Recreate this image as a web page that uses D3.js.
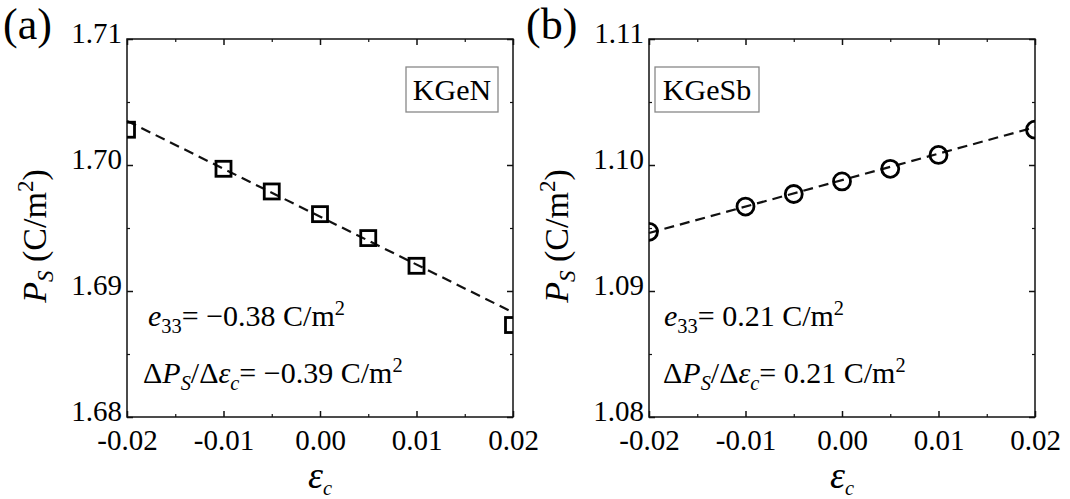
<!DOCTYPE html>
<html>
<head>
<meta charset="utf-8">
<script src="https://cdn.jsdelivr.net/npm/d3@7"></script>
<style>
    body { margin: 0; background: #fff; }
    svg, svg text { font-family: 'Liberation Serif', 'Times New Roman', serif; }
    .axis-line { fill: none; stroke: #111; stroke-width: 1.5; }
</style>
</head>
<body>
<svg id="chart" width="1070" height="499"></svg>
<script>
// Data
const strain = [-0.02, -0.01, -0.005, 0.00, 0.005, 0.01, 0.02];
const psKGeN = [1.7028, 1.6997, 1.6979, 1.6961, 1.6942, 1.6920, 1.6873];
const psKGeSb = [1.0947, 1.0967, 1.0977, 1.0987, 1.0997, 1.1008, 1.1028];

// linear fits (dashed)
const fitStrain = [-0.02, 0.02];
const fitKGeN = [1.7035, 1.6883];
const fitKGeSb = [1.0946, 1.1030];

const xTicks = [-0.02, -0.01, 0.00, 0.01, 0.02];
const yTicksKGeN = [1.68, 1.69, 1.70, 1.71];
const yTicksKGeSb = [1.08, 1.09, 1.10, 1.11];

const svg = d3.select('#chart');
const serif = "'Liberation Serif', 'Times New Roman', serif";

// text with sub/superscripts: parts = [[text, style]] style: i, sub, isub, sup
function richText(sel, parts, size) {
    let shift = 0;
    parts.forEach(([t, s]) => {
        const sp = sel.append('tspan').text(t);
        let target = 0;
        if (s === 'sub' || s === 'isub') target = 0.22 * size;
        if (s === 'sup') target = -0.38 * size;
        sp.attr('dy', target - shift);
        shift = target;
        if (s === 'i' || s === 'isub') sp.style('font-style', 'italic');
        if (s === 'sub' || s === 'isub' || s === 'sup') sp.style('font-size', (size * 0.68) + 'px');
    });
}

function drawPanel(opt) {
    const width = 386, height = 378;
    const g = svg.append('g').attr('transform', `translate(${opt.left}, ${opt.top})`);

    const x = d3.scaleLinear().domain([-0.02, 0.02]).range([0, width]);
    const y = d3.scaleLinear().domain(opt.yDomain).range([height, 0]);

    const clipId = 'clip-' + opt.name;
    g.append('clipPath').attr('id', clipId)
        .append('rect').attr('width', width).attr('height', height);

    // ticks (inward, all four sides)
    const xMinor = d3.range(-0.02, 0.0201, 0.005).filter(v => !xTicks.some(t => Math.abs(t - v) < 1e-9));
    const yMinor = opt.yTicks.slice(0, -1).map(v => v + 0.005);

    const bottom = d3.axisBottom(x).tickValues(xTicks).tickSizeInner(-6).tickSizeOuter(0);
    const bAxis = g.append('g').attr('transform', `translate(0, ${height})`).call(bottom)
        .attr('font-family', serif);
    bAxis.select('.domain').remove();
    bAxis.selectAll('line').attr('stroke', '#111').attr('stroke-width', 1.5);
    bAxis.selectAll('text').attr('fill', '#000').style('font-size', '29px')
        .attr('y', 0).attr('dy', '33px').text(d => d3.format('.2f')(d).replace('−', '-'));

    g.append('g').attr('transform', `translate(0, ${height})`)
        .call(d3.axisBottom(x).tickValues(xMinor).tickSize(-3).tickFormat(''))
        .call(a => a.select('.domain').remove())
        .selectAll('line').attr('stroke', '#111').attr('stroke-width', 1.2);

    g.append('g')
        .call(d3.axisTop(x).tickValues(xTicks).tickSize(-6).tickFormat(''))
        .call(a => a.select('.domain').remove())
        .selectAll('line').attr('stroke', '#111').attr('stroke-width', 1.5);
    g.append('g')
        .call(d3.axisTop(x).tickValues(xMinor).tickSize(-3).tickFormat(''))
        .call(a => a.select('.domain').remove())
        .selectAll('line').attr('stroke', '#111').attr('stroke-width', 1.2);

    const left = d3.axisLeft(y).tickValues(opt.yTicks).tickSizeInner(-6).tickSizeOuter(0).tickFormat(d3.format('.2f'));
    const lAxis = g.append('g').call(left).attr('font-family', serif);
    lAxis.select('.domain').remove();
    lAxis.selectAll('line').attr('stroke', '#111').attr('stroke-width', 1.5);
    lAxis.selectAll('text').attr('fill', '#000').style('font-size', '29px')
        .attr('x', -5).attr('dy', '0.12em');

    g.append('g')
        .call(d3.axisLeft(y).tickValues(yMinor).tickSize(-3).tickFormat(''))
        .call(a => a.select('.domain').remove())
        .selectAll('line').attr('stroke', '#111').attr('stroke-width', 1.2);

    g.append('g').attr('transform', `translate(${width}, 0)`)
        .call(d3.axisRight(y).tickValues(opt.yTicks).tickSize(-6).tickFormat(''))
        .call(a => a.select('.domain').remove())
        .selectAll('line').attr('stroke', '#111').attr('stroke-width', 1.5);
    g.append('g').attr('transform', `translate(${width}, 0)`)
        .call(d3.axisRight(y).tickValues(yMinor).tickSize(-3).tickFormat(''))
        .call(a => a.select('.domain').remove())
        .selectAll('line').attr('stroke', '#111').attr('stroke-width', 1.2);

    // frame
    g.append('rect').attr('class', 'axis-line').attr('width', width).attr('height', height);

    // dashed fit
    const line = d3.line().x(d => x(d[0])).y(d => y(d[1]));
    g.append('path')
        .datum(fitStrain.map((s, i) => [s, opt.fit[i]]))
        .attr('d', line)
        .attr('fill', 'none').attr('stroke', '#111')
        .attr('stroke-width', 2.2).attr('stroke-dasharray', '10,6');

    // markers
    const pts = g.append('g').attr('clip-path', `url(#${clipId})`);
    const data = strain.map((s, i) => ({ s, v: opt.values[i] }));
    if (opt.marker === 'square') {
        pts.selectAll('rect').data(data).enter().append('rect')
            .attr('x', d => x(d.s) - 7.5).attr('y', d => y(d.v) - 7.5)
            .attr('width', 15).attr('height', 15)
            .attr('fill', 'none').attr('stroke', '#000').attr('stroke-width', 2.8);
    } else {
        pts.selectAll('circle').data(data).enter().append('circle')
            .attr('cx', d => x(d.s)).attr('cy', d => y(d.v)).attr('r', 8.5)
            .attr('fill', 'none').attr('stroke', '#000').attr('stroke-width', 2.8);
    }

    // material label box
    const box = g.append('g').attr('transform', `translate(${opt.boxX}, 28)`);
    box.append('rect').attr('width', opt.boxW).attr('height', 45)
        .attr('fill', '#fff').attr('stroke', '#888').attr('stroke-width', 1.3);
    box.append('text').attr('x', opt.boxW / 2).attr('y', 33)
        .attr('text-anchor', 'middle').style('font-size', '30px').text(opt.name);

    // annotations
    const t1 = g.append('text').attr('x', opt.annX1).attr('y', 287).style('font-size', '30px');
    richText(t1, [['e', 'i'], ['33', 'sub'], ['= ' + opt.e33 + ' C/m', ''], ['2', 'sup']], 30);
    const t2 = g.append('text').attr('x', opt.annX2).attr('y', 344).style('font-size', '30px');
    richText(t2, [['Δ', ''], ['P', 'i'], ['S', 'isub'], ['/Δ', ''], ['ε', 'i'], ['c', 'isub'],
        ['= ' + opt.slope + ' C/m', ''], ['2', 'sup']], 30);

    // y label
    const yl = g.append('text')
        .attr('transform', `translate(-81, ${height / 2 + 8}) rotate(-90)`)
        .attr('text-anchor', 'middle').style('font-size', '34px');
    richText(yl, [['P', 'i'], ['S', 'isub'], [' (C/m', ''], ['2', 'sup'], [')', '']], 34);

    // x label
    const xl = g.append('text').attr('x', width / 2).attr('y', height + 71)
        .attr('text-anchor', 'middle').style('font-size', '38px');
    richText(xl, [['ε', 'i'], ['c', 'isub']], 30);

    // panel letter
    svg.append('text').attr('x', opt.left + opt.letterDx).attr('y', 39)
        .style('font-size', '44px').text(opt.letter);
}

drawPanel({
    name: 'KGeN', letter: '(a)', left: 127, top: 39, letterDx: -124,
    yDomain: [1.68, 1.71], yTicks: yTicksKGeN,
    values: psKGeN, fit: fitKGeN, marker: 'square',
    boxX: 279, boxW: 92, annX1: 21, annX2: 16,
    e33: '−0.38', slope: '−0.39'
});

drawPanel({
    name: 'KGeSb', letter: '(b)', left: 649, top: 39, letterDx: -123,
    yDomain: [1.08, 1.11], yTicks: yTicksKGeSb,
    values: psKGeSb, fit: fitKGeSb, marker: 'circle',
    boxX: 6, boxW: 104, annX1: 15, annX2: 14,
    e33: '0.21', slope: '0.21'
});
</script>
</body>
</html>
